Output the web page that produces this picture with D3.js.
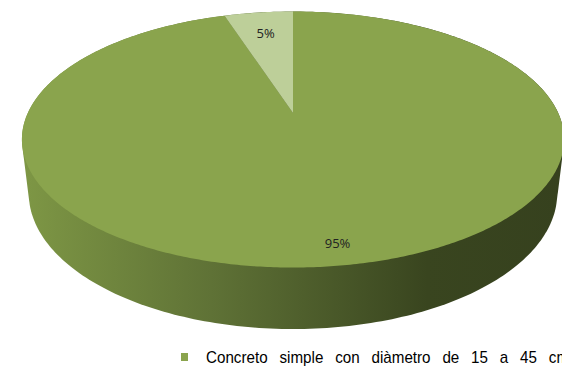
<!doctype html>
<html lang="es">
<head>
<meta charset="UTF-8">
<title>Pie 3D</title>
<script src="https://cdn.jsdelivr.net/npm/d3@7"></script>
<style>
    body { margin: 0; background: #fff; overflow: hidden; }
    svg { display: block; }
</style>
</head>
<body>
<div id="chartDiv"></div>
<script>
// data
const categories = ["Concreto simple con diàmetro de 15 a 45 cm", "Otros"]
const values = [95, 5]
const labels = ["95%", "5%"]
const topColors = ["#8aa44d", "#bdcf99"]

const width = 562, height = 371

// perspective set up (fitted by eye)
const cx = 293, cy = 113
const f = 1135, D = 4.28
const sinP = 0.462, cosP = 0.887
const H = 0.23

// theta clockwise from 12 o'clock, h = height (0 top face)
function proj(theta, r, h) {
    let u = r * Math.sin(theta), v = r * Math.cos(theta)
    let Y = v * sinP + h * cosP
    let Z = D + v * cosP - h * sinP
    return [cx + f * u / Z, cy - f * Y / Z]
}

const svg = d3.select('#chartDiv').append('svg')
    .attr('width', width).attr('height', height)

const defs = svg.append('defs')
const grad = defs.append('linearGradient')
    .attr('id', 'sideGrad')
    .attr('gradientUnits', 'userSpaceOnUse')
    .attr('x1', 22).attr('x2', 562).attr('y1', 0).attr('y2', 0)
grad.append('stop').attr('offset', '0%').attr('stop-color', '#7e9745')
grad.append('stop').attr('offset', '35%').attr('stop-color', '#5f7236')
grad.append('stop').attr('offset', '75%').attr('stop-color', '#39451f')
grad.append('stop').attr('offset', '100%').attr('stop-color', '#36411e')

const pie = d3.pie().sort(null).value(d => d)
const arcs = pie(values)

// side: hull of top and bottom rims
let rim = []
d3.range(0, 360, 1).forEach(a => {
    let t = a * Math.PI / 180
    rim.push(proj(t, 1, 0))
    rim.push(proj(t, 1, -H))
})
let hull = d3.polygonHull(rim)
svg.append('path')
    .attr('d', 'M' + hull.join('L') + 'Z')
    .attr('fill', 'url(#sideGrad)')

// top face slices
const line = d3.line()
arcs.forEach((a, i) => {
    let pts = [proj(0, 0, 0)]
    let n = Math.max(2, Math.ceil((a.endAngle - a.startAngle) / 0.01))
    for (let k = 0; k <= n; k++) {
        let t = a.startAngle + (a.endAngle - a.startAngle) * k / n
        pts.push(proj(t, 1, 0))
    }
    svg.append('path')
        .attr('d', line(pts) + 'Z')
        .attr('fill', topColors[i])
})

// labels
const labelR = [0.88, 0.76]
arcs.forEach((a, i) => {
    let mid = (a.startAngle + a.endAngle) / 2
    let p = proj(mid, labelR[i], 0)
    svg.append('text')
        .attr('x', p[0]).attr('y', p[1])
        .attr('text-anchor', 'middle')
        .attr('dominant-baseline', 'central')
        .attr('font-family', 'Open Sans, DejaVu Sans, sans-serif')
        .attr('font-size', 13)
        .attr('fill', '#222')
        .text(labels[i])
})

// legend (first category only, as in the original)
svg.append('rect')
    .attr('x', 181).attr('y', 353)
    .attr('width', 7).attr('height', 8)
    .attr('fill', topColors[0])
svg.append('text')
    .attr('transform', 'translate(206,363) scale(0.95,1)')
    .attr('font-family', 'Liberation Sans, Arial, sans-serif')
    .attr('font-size', 16)
    .attr('word-spacing', 8)
    .attr('fill', '#000')
    .text(categories[0])
</script>
</body>
</html>
